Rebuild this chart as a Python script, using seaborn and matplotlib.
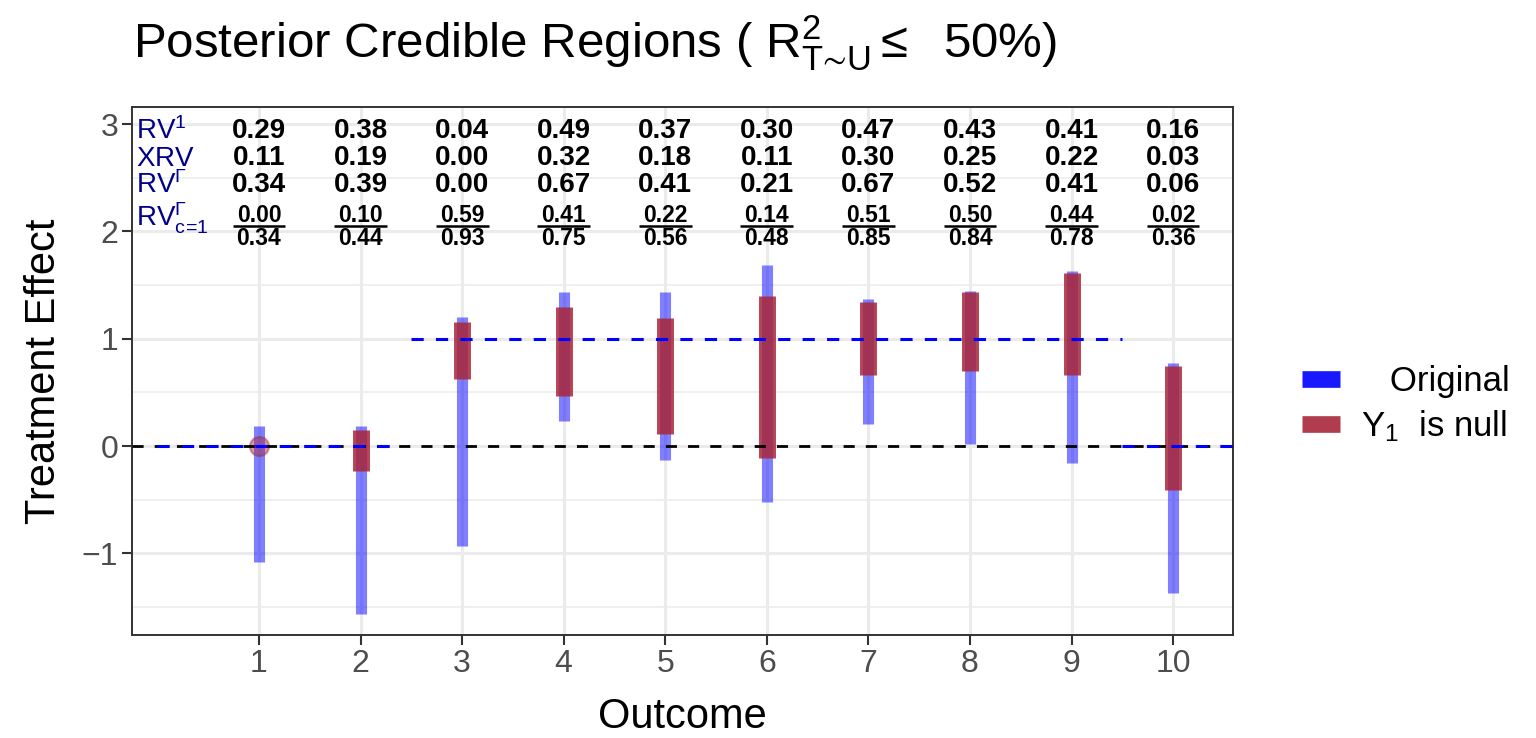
import numpy as np
import pandas as pd
import matplotlib
matplotlib.use("Agg")
import matplotlib.pyplot as plt
from matplotlib.lines import Line2D
import seaborn as sns

# ---------------- data ----------------
outcomes = [1, 2, 3, 4, 5, 6, 7, 8, 9, 10]
orig_low = [-1.08, -1.56, -0.93, 0.23, -0.13, -0.52, 0.21, 0.02, -0.16, -1.37]
orig_high = [0.19, 0.19, 1.20, 1.44, 1.44, 1.69, 1.37, 1.45, 1.63, 0.77]
null_low = [0.00, -0.23, 0.63, 0.47, 0.11, -0.11, 0.66, 0.70, 0.66, -0.41]
null_high = [0.00, 0.15, 1.16, 1.30, 1.19, 1.40, 1.34, 1.44, 1.61, 0.75]

# reference (true-effect) segments drawn in blue dashes
ref_y = [0, 1, 0]
ref_start = [0.0, 2.5, 9.5]
ref_end = [2.4, 9.5, 10.6]

rv1 = [0.29, 0.38, 0.04, 0.49, 0.37, 0.30, 0.47, 0.43, 0.41, 0.16]
xrv = [0.11, 0.19, 0.00, 0.32, 0.18, 0.11, 0.30, 0.25, 0.22, 0.03]
rv_gamma = [0.34, 0.39, 0.00, 0.67, 0.41, 0.21, 0.67, 0.52, 0.41, 0.06]
rv_c1_num = [0.00, 0.10, 0.59, 0.41, 0.22, 0.14, 0.51, 0.50, 0.44, 0.02]
rv_c1_den = [0.34, 0.44, 0.93, 0.75, 0.56, 0.48, 0.85, 0.84, 0.78, 0.36]

row_labels = [r"$\mathregular{RV^1}$", r"$\mathregular{XRV}$",
              r"$\mathregular{RV^\Gamma}$", r"$\mathregular{RV^\Gamma_{c\!=\!1}}$"]
legend_labels = ["   Original", r"$\mathregular{Y_1}$  is null"]
title = "Posterior Credible Regions ( $\\mathregular{R^2_{T\u223cU}\\leq}$  50%)"

# ---------------- style ----------------
sns.set_style("white")
plt.rcParams["font.family"] = ["Liberation Sans", "DejaVu Sans"]
plt.rcParams["text.color"] = "black"
plt.rcParams["axes.labelcolor"] = "black"
plt.rcParams["mathtext.fontset"] = "custom"
plt.rcParams["mathtext.rm"] = "Liberation Sans"
plt.rcParams["mathtext.it"] = "Liberation Sans:italic"
plt.rcParams["mathtext.bf"] = "Liberation Sans:bold"
plt.rcParams["mathtext.sf"] = "Liberation Sans"

BLUE = "#0000FF"
RED = "#A8273A"

fig = plt.figure(figsize=(15.36, 7.38), dpi=100)
ax = fig.add_axes([132 / 1536, 1 - 635 / 738, 1101 / 1536, 528 / 738])

def long_df(lo, hi):
    rows = []
    for o, a, b in zip(outcomes, lo, hi):
        rows.append({"Outcome": o, "value": a})
        rows.append({"Outcome": o, "value": b})
    return pd.DataFrame(rows)

df_orig = long_df(orig_low, orig_high)
df_null = long_df(null_low, null_high)

sns.lineplot(data=df_orig, x="Outcome", y="value", units="Outcome", estimator=None,
             color=BLUE, alpha=0.5, lw=8.0, solid_capstyle="butt", ax=ax,
             legend=False, zorder=3)
sns.lineplot(data=df_null, x="Outcome", y="value", units="Outcome", estimator=None,
             color=RED, alpha=0.86, lw=12.2, solid_capstyle="butt", ax=ax,
             legend=False, zorder=4)

# degenerate null interval shown as a point
deg = pd.DataFrame({"Outcome": [o for o, a, b in zip(outcomes, null_low, null_high) if a == b],
                    "value": [a for a, b in zip(null_low, null_high) if a == b]})
sns.scatterplot(data=deg, x="Outcome", y="value", s=190, color=RED, alpha=0.45,
                edgecolor=RED, linewidth=1.5, ax=ax, zorder=5, legend=False)

# reference lines
ax.axhline(0, color="black", lw=2.0, ls=(0, (4, 4)), zorder=5)
ax.hlines(ref_y, ref_start, ref_end, color=BLUE, lw=2.2, linestyles=[(0, (4, 4))], zorder=6)

# annotation rows
ROW_Y = [2.94, 2.68, 2.43, 2.12]
for lab, yy in zip(row_labels, ROW_Y):
    ax.text(-0.21, yy, lab, color="darkblue", fontsize=20, ha="left", va="center", zorder=7)

for i, o in enumerate(outcomes):
    ax.text(o, 2.935, f"{rv1[i]:.2f}", fontsize=20, fontweight="bold", ha="center", va="center", zorder=7)
    ax.text(o, 2.685, f"{xrv[i]:.2f}", fontsize=20, fontweight="bold", ha="center", va="center", zorder=7)
    ax.text(o, 2.435, f"{rv_gamma[i]:.2f}", fontsize=20, fontweight="bold", ha="center", va="center", zorder=7)
    ax.text(o, 2.145, f"{rv_c1_num[i]:.2f}", fontsize=16.5, fontweight="bold", ha="center", va="center", zorder=7)
    ax.text(o, 1.935, f"{rv_c1_den[i]:.2f}", fontsize=16.5, fontweight="bold", ha="center", va="center", zorder=7)
    ax.hlines(2.05, o - 0.26, o + 0.26, color="black", lw=1.8, zorder=7)

# axes
ax.set_xlim(-0.25, 10.59)
ax.set_ylim(-1.76, 3.16)
ax.set_xticks(outcomes)
ax.set_xticklabels([str(o) for o in outcomes])
ax.set_yticks([-1, 0, 1, 2, 3])
ax.set_yticks([-1.5, -0.5, 0.5, 1.5, 2.5], minor=True)
ax.grid(True, which="major", color="#EBEBEB", lw=2.2, zorder=0)
ax.grid(True, which="minor", axis="y", color="#EBEBEB", lw=1.1, zorder=0)
ax.set_axisbelow(True)
ax.tick_params(axis="both", which="major", labelsize=23, labelcolor="#4D4D4D",
               color="#333333", length=7, width=1.5, pad=3, direction="out",
               left=True, bottom=True)
ax.tick_params(axis="both", which="minor", length=0)
for sp in ax.spines.values():
    sp.set_color("#333333")
    sp.set_linewidth(1.4)
    sp.set_visible(True)

ax.set_xlabel("Outcome", fontsize=30, color="black")
ax.set_ylabel("Treatment Effect", fontsize=30, color="black")
ax.xaxis.set_label_coords(0.5, -0.118)
ax.yaxis.set_label_coords(-0.062, 0.5)

fig.text(133 / 1536, 1 - 58 / 738, title, fontsize=35.5, color="black", ha="left", va="baseline")

handles = [Line2D([], [], color=BLUE, alpha=0.9, lw=12, solid_capstyle="butt"),
           Line2D([], [], color=RED, alpha=0.9, lw=12, solid_capstyle="butt")]
leg = fig.legend(handles, legend_labels, loc="upper left", bbox_to_anchor=(1302 / 1536, 1 - 365 / 738),
                 frameon=False, fontsize=25, handlelength=1.1, handletextpad=0.6,
                 labelspacing=0.3, borderpad=0, borderaxespad=0)
for t in leg.get_texts():
    t.set_color("black")

fig.savefig("out.png", dpi=100)
